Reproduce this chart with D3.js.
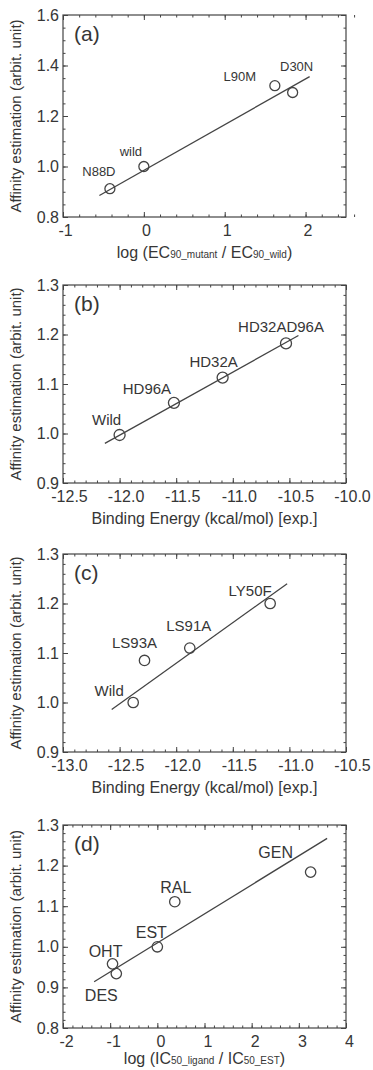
<!DOCTYPE html>
<html><head><meta charset="utf-8">
<script src="https://cdn.jsdelivr.net/npm/d3@7"></script>
<style>
body{margin:0;background:#fff;}
svg{display:block;}
text{font-family:"Liberation Sans",Arial,Helvetica,sans-serif;fill:#363636;}
</style></head><body>
<svg id="chart" width="373" height="1070"></svg>
<script>
// ---- panel (a) ----
const aNames = ["N88D", "wild", "L90M", "D30N"];
const aX = [-0.42, 0, 1.62, 1.84];
const aY = [0.912, 1.0, 1.32, 1.293];
const aFitX = [-0.55, 2.05];
const aFitY = [0.885, 1.356];
const aXTicks = [-1, 0, 1, 2];
const aYTicks = [0.8, 1.0, 1.2, 1.4, 1.6];

// ---- panel (b) ----
const bNames = ["Wild", "HD96A", "HD32A", "HD32AD96A"];
const bX = [-12.0, -11.52, -11.09, -10.53];
const bY = [0.997, 1.062, 1.113, 1.182];
const bFitX = [-12.13, -10.42];
const bFitY = [0.98, 1.198];
const bXTicks = [-12.5, -12.0, -11.5, -11.0, -10.5, -10.0];
const bYTicks = [0.9, 1.0, 1.1, 1.2, 1.3];

// ---- panel (c) ----
const cNames = ["Wild", "LS93A", "LS91A", "LY50F"];
const cX = [-12.38, -12.28, -11.88, -11.17];
const cY = [1.0, 1.085, 1.11, 1.2];
const cFitX = [-12.57, -11.02];
const cFitY = [0.986, 1.24];
const cXTicks = [-13.0, -12.5, -12.0, -11.5, -11.0, -10.5];
const cYTicks = [0.9, 1.0, 1.1, 1.2, 1.3];

// ---- panel (d) ----
const dNames = ["OHT", "DES", "EST", "RAL", "GEN"];
const dX = [-0.95, -0.87, 0, 0.37, 3.25];
const dY = [0.958, 0.934, 1.0, 1.111, 1.184];
const dFitX = [-1.34, 3.6];
const dFitY = [0.914, 1.267];
const dXTicks = [-2, -1, 0, 1, 2, 3, 4];
const dYTicks = [0.8, 0.9, 1.0, 1.1, 1.2, 1.3];

const yTitle = "Affinity estimation (arbit. unit)";

const panels = [
  {tag:"(a)", names:aNames, xs:aX, ys:aY, fx:aFitX, fy:aFitY, xt:aXTicks, yt:aYTicks,
   xdom:[-1,2.5], ydom:[0.8,1.6], xminor:0.2, yminor:0.05, xdec:0, ydec:1,
   top:15, bottom:217, r:5, lfs:13, xlshift:2, tgap:41,
   loff:[[-11,-17],[-13,-15],[-35,-9],[4,-26]],
   title:[["log (EC",0],["90_mutant",1],[" / EC",0],["90_wild",1],[")",0]]},
  {tag:"(b)", names:bNames, xs:bX, ys:bY, fx:bFitX, fy:bFitY, xt:bXTicks, yt:bYTicks,
   xdom:[-12.5,-10], ydom:[0.9,1.3], xminor:0.1, yminor:0.02, xdec:1, ydec:1,
   top:285, bottom:483, r:5.5, lfs:15, xlshift:6, tgap:41,
   loff:[[-13,-15],[-27,-14],[-9,-16],[-5,-17]],
   title:[["Binding Energy (kcal/mol) [exp.]",0]]},
  {tag:"(c)", names:cNames, xs:cX, ys:cY, fx:cFitX, fy:cFitY, xt:cXTicks, yt:cYTicks,
   xdom:[-13,-10.5], ydom:[0.9,1.3], xminor:0.1, yminor:0.02, xdec:1, ydec:1,
   top:554, bottom:752, r:5.2, lfs:15, xlshift:6, tgap:41,
   loff:[[-24,-12],[-10,-18],[-1,-22],[-20,-13]],
   title:[["Binding Energy (kcal/mol) [exp.]",0]]},
  {tag:"(d)", names:dNames, xs:dX, ys:dY, fx:dFitX, fy:dFitY, xt:dXTicks, yt:dYTicks,
   xdom:[-2,4], ydom:[0.8,1.3], xminor:0.2, yminor:0.02, xdec:0, ydec:1,
   top:825, bottom:1028, r:5.2, lfs:16, xlshift:3, tgap:36,
   loff:[[-7,-13],[-15,22],[-6,-15],[1,-14],[-35,-20]],
   title:[["log (IC",0],["50_ligand",1],[" / IC",0],["50_EST",1],[")",0]]}
];

const svg = d3.select("#chart");
const LEFT = 63, RIGHT = 346;
const ink = "#444";

function fmt(dec){ return v => d3.format("." + dec + "f")(v).replace("\u2212", "-"); }
function minorRange(dom, step){
  const out = [];
  const n = Math.round((dom[1]-dom[0])/step);
  for (let i = 0; i <= n; i++) out.push(+(dom[0] + i*step).toFixed(4));
  return out;
}

panels.forEach(p => {
  const x = d3.scaleLinear().domain(p.xdom).range([LEFT, RIGHT]);
  const y = d3.scaleLinear().domain(p.ydom).range([p.bottom, p.top]);
  const g = svg.append("g");

  const styleAxis = sel => {
    sel.select(".domain").remove();
    sel.selectAll("line").attr("stroke", ink).attr("stroke-width", 1);
    sel.selectAll("text").attr("fill", "#363636").style("font-size", "16px")
      .style("font-family", '"Liberation Sans",Arial,Helvetica,sans-serif');
  };

  // minor ticks on all four sides
  const xm = minorRange(p.xdom, p.xminor), ym = minorRange(p.ydom, p.yminor);
  g.append("g").attr("transform", `translate(0,${p.bottom})`)
    .call(d3.axisBottom(x).tickValues(xm).tickSize(-2.5).tickFormat("")).call(styleAxis);
  g.append("g").attr("transform", `translate(0,${p.top})`)
    .call(d3.axisTop(x).tickValues(xm).tickSize(-2.5).tickFormat("")).call(styleAxis);
  g.append("g").attr("transform", `translate(${LEFT},0)`)
    .call(d3.axisLeft(y).tickValues(ym).tickSize(-2.5).tickFormat("")).call(styleAxis);
  g.append("g").attr("transform", `translate(${RIGHT},0)`)
    .call(d3.axisRight(y).tickValues(ym).tickSize(-2.5).tickFormat("")).call(styleAxis);

  // major ticks
  g.append("g").attr("transform", `translate(0,${p.bottom})`)
    .call(d3.axisBottom(x).tickValues(p.xt).tickSize(-5).tickPadding(8).tickFormat(fmt(p.xdec)))
    .call(styleAxis)
    .call(s => s.selectAll("text").attr("dx", p.xlshift));
  g.append("g").attr("transform", `translate(0,${p.top})`)
    .call(d3.axisTop(x).tickValues(p.xt).tickSize(-5).tickFormat("")).call(styleAxis);
  g.append("g").attr("transform", `translate(${LEFT},0)`)
    .call(d3.axisLeft(y).tickValues(p.yt).tickSize(-5).tickPadding(4).tickFormat(fmt(p.ydec))).call(styleAxis);
  g.append("g").attr("transform", `translate(${RIGHT},0)`)
    .call(d3.axisRight(y).tickValues(p.yt).tickSize(-5).tickFormat("")).call(styleAxis);

  // frame
  g.append("rect").attr("x", LEFT).attr("y", p.top)
    .attr("width", RIGHT-LEFT).attr("height", p.bottom-p.top)
    .attr("fill", "none").attr("stroke", ink).attr("stroke-width", 1.2);

  // fit line
  const line = d3.line().x(d => x(d[0])).y(d => y(d[1]));
  g.append("path").datum(p.fx.map((v,i) => [v, p.fy[i]]))
    .attr("d", line).attr("fill", "none").attr("stroke", ink).attr("stroke-width", 1.3);

  // points
  const pts = p.xs.map((v,i) => ({x:v, y:p.ys[i], n:p.names[i], o:p.loff[i]}));
  g.selectAll("circle.pt").data(pts).join("circle").attr("class","pt")
    .attr("cx", d => x(d.x)).attr("cy", d => y(d.y)).attr("r", p.r)
    .attr("fill", "none").attr("stroke", ink).attr("stroke-width", 1.3);

  // point labels
  g.selectAll("text.lab").data(pts).join("text").attr("class","lab")
    .attr("x", d => x(d.x) + d.o[0]).attr("y", d => y(d.y) + d.o[1])
    .attr("dy", "0.36em").attr("text-anchor", "middle")
    .style("font-size", p.lfs + "px").text(d => d.n);

  // panel tag
  g.append("text").attr("x", LEFT + 11).attr("y", p.top + 26)
    .style("font-size", "21px").text(p.tag);

  // x title
  const t = g.append("text").attr("x", (LEFT+RIGHT)/2).attr("y", p.bottom + p.tgap)
    .attr("text-anchor", "middle").style("font-size", "16px");
  p.title.forEach(([s, sub]) => {
    t.append("tspan").style("font-size", sub ? "10px" : "16px").text(s);
  });

  // y title
  g.append("text")
    .attr("transform", `translate(21,${(p.top+p.bottom)/2}) rotate(-90)`)
    .attr("text-anchor", "middle").style("font-size", "15px").text(yTitle);
});
</script>
</body></html>
